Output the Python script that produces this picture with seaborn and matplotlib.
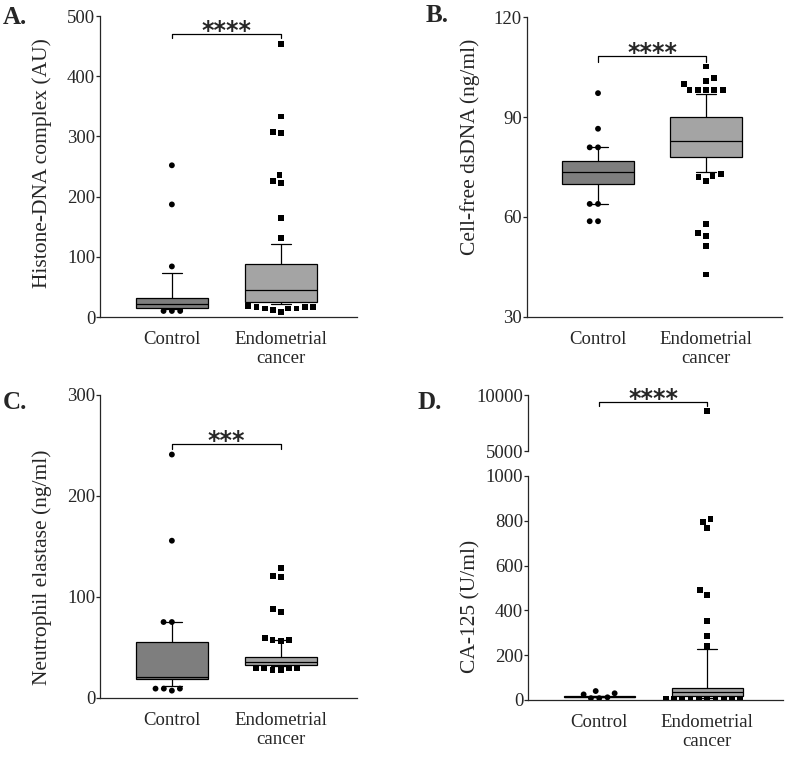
import matplotlib
matplotlib.use('Agg')
import matplotlib.pyplot as plt
import numpy as np
import pandas as pd
import seaborn as sns
import warnings

warnings.filterwarnings('ignore')

groups = ['Control', 'Endometrial\ncancer']

# box summaries: lower whisker, Q1, median, Q3, upper whisker
a_ctrl_box = [13, 14.5, 21, 31.5, 73]
a_endo_box = [22, 24.5, 44.5, 88, 122]
a_ctrl_pts = [252, 187, 84, 10, 10, 10]
a_endo_pts = [453, 333, 308, 305, 236, 226, 223, 164, 131,
              18, 17, 17, 16, 14, 14, 14, 12, 8]

b_ctrl_box = [63.9, 69.8, 73.6, 76.8, 80.9]
b_endo_box = [73.6, 78.1, 82.9, 90.1, 96.8]
b_ctrl_pts = [97.2, 86.5, 80.9, 80.9, 63.9, 63.9, 58.7, 58.7]
b_endo_pts = [105.2, 101.8, 100.8, 100.0, 98.2, 98.2, 98.2, 98.2, 98.2,
              72.9, 72.4, 71.9, 70.9, 57.8, 55.1, 54.2, 51.3, 42.7]

c_ctrl_box = [11.6, 18.5, 20.8, 55.2, 75]
c_endo_box = [31, 32.7, 35.7, 40, 57]
c_ctrl_pts = [241, 155.6, 75, 75, 9, 9, 9, 7]
c_endo_pts = [128.5, 121, 119.5, 87.6, 84.6, 59.5, 57, 57, 56.5,
              29.4, 29, 29, 29, 27.5, 27.5]

d_ctrl_box = [12, 14, 15, 17, 20]
d_endo_box = [10, 19, 34, 52, 229]
d_ctrl_pts = [40, 30, 25, 12, 8, 8]
d_endo_pts = [8545, 808, 796, 766, 490, 470, 353, 286, 241,
              7, 7, 7, 7, 7, 7, 7, 7, 5, 7]

ylabels = ['Histone-DNA complex (AU)', 'Cell-free dsDNA (ng/ml)',
           'Neutrophil elastase (ng/ml)', 'CA-125 (U/ml)']
stars = ['****', '****', '***', '****']

palette = {groups[0]: '#7e7e7e', groups[1]: '#a4a4a4'}

sns.set_style('ticks')
plt.rcParams['font.family'] = ['Liberation Serif', 'DejaVu Serif']
plt.rcParams['axes.linewidth'] = 0.9
plt.rcParams['xtick.major.width'] = 0.9
plt.rcParams['ytick.major.width'] = 0.9


def make_df(ctrl, endo):
    return pd.DataFrame({'group': [groups[0]] * len(ctrl) + [groups[1]] * len(endo),
                         'value': list(ctrl) + list(endo)})


def draw_boxes(ax, ctrl_box, endo_box):
    n = len(ax.lines)
    sns.boxplot(data=make_df(ctrl_box, endo_box), x='group', y='value', hue='group',
                order=groups, hue_order=groups, palette=palette, saturation=1,
                width=0.66, whis=(0, 100), showfliers=False, linecolor='black',
                linewidth=0.9, legend=False, ax=ax)
    # narrower whisker caps, like the original
    for ln in ax.lines[n:]:
        x, y = np.asarray(ln.get_xdata(), float), np.asarray(ln.get_ydata(), float)
        if len(x) == 2 and y[0] == y[1] and abs(x[1] - x[0]) < 0.5:
            c = x.mean()
            ln.set_xdata([c - 0.09, c + 0.09])


def draw_points(ax, pts, marker):
    sns.swarmplot(data=pts, x='group', y='value', order=groups, color='black',
                  marker=marker, size=4.2, linewidth=1.5, edgecolor='none',
                  zorder=4, ax=ax)


def style_axis(ax, ylim, yticks, ylabel, label_y):
    ax.set_xlim(-0.66, 1.70)
    ax.set_ylim(*ylim)
    ax.set_yticks(yticks)
    ax.set_xlabel('')
    ax.set_ylabel(ylabel, fontsize=15.5)
    ax.tick_params(axis='x', length=0, pad=10, labelsize=13.5)
    ax.tick_params(axis='y', length=3, pad=0.5, labelsize=13.5)
    sns.despine(ax=ax)
    ax.yaxis.set_label_coords(-0.185, label_y)


def bracket(ax, y1, drop, text):
    ax.plot([0, 0, 1, 1], [y1 - drop, y1, y1, y1 - drop], color='black',
            lw=0.9, clip_on=False)
    ax.annotate(text, xy=(0.5, y1), xytext=(0, -3.0), textcoords='offset points',
                ha='center', va='baseline', fontsize=17, fontweight='bold',
                family='DejaVu Sans', annotation_clip=False)


fig = plt.figure(figsize=(7.91, 7.58), dpi=100)
W, H = 791, 758


def add_ax(left, top, right, bottom):
    return fig.add_axes([left / W, 1 - bottom / H, (right - left) / W, (bottom - top) / H])


panels = [
    (add_ax(100, 16, 357, 317), a_ctrl_box, a_endo_box, a_ctrl_pts, a_endo_pts,
     (0, 500), [0, 100, 200, 300, 400, 500], 0.51, 469.6, 6.5),
    (add_ax(526.7, 17.3, 781.7, 316.7), b_ctrl_box, b_endo_box, b_ctrl_pts, b_endo_pts,
     (30, 120), [30, 60, 90, 120], 0.568, 108.4, 1.7),
    (add_ax(100, 395, 357, 697.7), c_ctrl_box, c_endo_box, c_ctrl_pts, c_endo_pts,
     (0, 300), [0, 100, 200, 300], 0.43, 251.4, 5.4),
]

for i, (ax, cb, eb, cp, ep, ylim, yt, ly, by, drop) in enumerate(panels):
    draw_boxes(ax, cb, eb)
    draw_points(ax, make_df(cp, []), 'o')
    draw_points(ax, make_df([], ep), 's')
    style_axis(ax, ylim, yt, ylabels[i], ly)
    bracket(ax, by, drop, stars[i])

# panel D: broken y axis
axd = add_ax(528, 476, 782.7, 700)
axt = add_ax(528, 395, 782.7, 451)
d_ctrl = make_df(d_ctrl_pts, [])
d_endo = make_df([], d_endo_pts)
draw_boxes(axd, d_ctrl_box, d_endo_box)
draw_points(axd, d_ctrl, 'o')
draw_points(axd, d_endo[d_endo.value <= 1000], 's')
style_axis(axd, (0, 1000), [0, 200, 400, 600, 800, 1000], ylabels[3], 0.42)
axd.yaxis.set_label_coords(-0.186, 0.42)

draw_points(axt, d_endo[d_endo.value > 1000], 's')
style_axis(axt, (5000, 10000), [5000, 10000], '', 0.5)
axt.spines['bottom'].set_visible(False)
axt.set_xticks([])
bracket(axt, 9375, 330, stars[3])

for txt, x, y in [('A.', 3, 6), ('B.', 426, 4), ('C.', 3, 391), ('D.', 417, 391)]:
    fig.text(x / W, 1 - y / H, txt, ha='left', va='top', fontsize=18, fontweight='bold')

fig.savefig('out.png', dpi=100)
